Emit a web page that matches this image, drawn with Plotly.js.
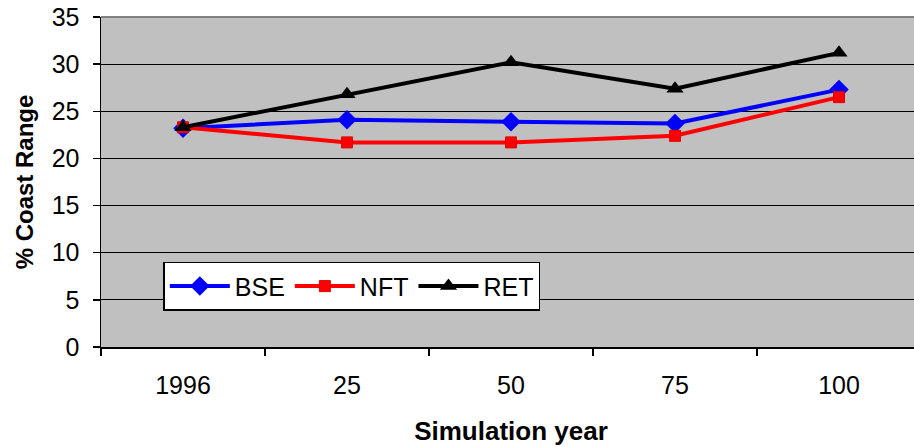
<!DOCTYPE html>
<html>
<head>
<meta charset="utf-8">
<script src="https://cdn.plot.ly/plotly-3.0.1.min.js"></script>
<style>
html,body{margin:0;padding:0;background:#fff;overflow:hidden;}
#chart{width:922px;height:447px;}
</style>
</head>
<body>
<div id="chart"></div>
<script>
const categories = ['1996', '25', '50', '75', '100'];
const bse = [23.2, 24.1, 23.9, 23.7, 27.3];
const nft = [23.3, 21.7, 21.7, 22.4, 26.5];
const ret = [23.3, 26.8, 30.2, 27.4, 31.2];
const seriesNames = ['BSE', 'NFT', 'RET'];
const yTicks = [0, 5, 10, 15, 20, 25, 30, 35];

const FONT = 'Liberation Sans, Arial, sans-serif';

const traces = [
  {x: categories, y: bse, name: seriesNames[0], type: 'scatter', mode: 'lines+markers',
   line: {color: '#0000FF', width: 4}, marker: {symbol: 'diamond', size: 15, color: '#0000FF'}},
  {x: categories, y: nft, name: seriesNames[1], type: 'scatter', mode: 'lines+markers',
   line: {color: '#FF0000', width: 4}, marker: {symbol: 'square', size: 11, color: '#FF0000', line: {color: '#E00000', width: 1}}},
  {x: categories, y: ret, name: seriesNames[2], type: 'scatter', mode: 'lines+markers',
   line: {color: '#000000', width: 4}, marker: {symbol: 'triangle-up', size: 15, color: '#000000'}}
];

const layout = {
  width: 922, height: 447,
  margin: {l: 101, r: 1, t: 17, b: 100},
  paper_bgcolor: '#ffffff',
  plot_bgcolor: '#C0C0C0',
  font: {family: FONT, size: 25, color: '#000'},
  showlegend: true,
  legend: {
    orientation: 'h', x: 0.076, y: 0.258, xanchor: 'left', yanchor: 'top',
    bgcolor: '#ffffff', bordercolor: '#000000', borderwidth: 1.5,
    font: {family: FONT, size: 25, color: '#000'},
    itemwidth: 60, traceorder: 'normal'
  },
  xaxis: {
    type: 'category', categoryorder: 'array', categoryarray: categories,
    range: [-0.5, 4.5], fixedrange: true,
    showgrid: false, zeroline: false,
    showline: true, linecolor: '#000', linewidth: 1.5,
    ticks: 'outside', tickson: 'boundaries', ticklen: 7, tickcolor: '#000', tickwidth: 1.5,
    ticklabelstandoff: 15,
    tickfont: {family: FONT, size: 25, color: '#000'},
    title: {text: 'Simulation year', font: {family: FONT, size: 26, color: '#000', weight: 'bold'}, standoff: 24}
  },
  yaxis: {
    range: [0, 35], tickvals: yTicks, fixedrange: true,
    showgrid: true, gridcolor: '#000', gridwidth: 1,
    zeroline: false,
    showline: true, linecolor: '#000', linewidth: 1.5,
    ticks: 'outside', ticklen: 7, tickcolor: '#000', tickwidth: 1.5,
    ticklabelstandoff: 8,
    tickfont: {family: FONT, size: 25, color: '#000'},
    title: {text: '% Coast Range', font: {family: FONT, size: 24, color: '#000', weight: 'bold'}, standoff: 11}
  },
  shapes: [
    {type: 'line', xref: 'paper', yref: 'paper', x0: 0, x1: 1, y0: 1, y1: 1,
     line: {color: '#808080', width: 2}, layer: 'above'}
  ]
};

Plotly.newPlot('chart', traces, layout, {displayModeBar: false, staticPlot: true});
</script>
</body>
</html>
